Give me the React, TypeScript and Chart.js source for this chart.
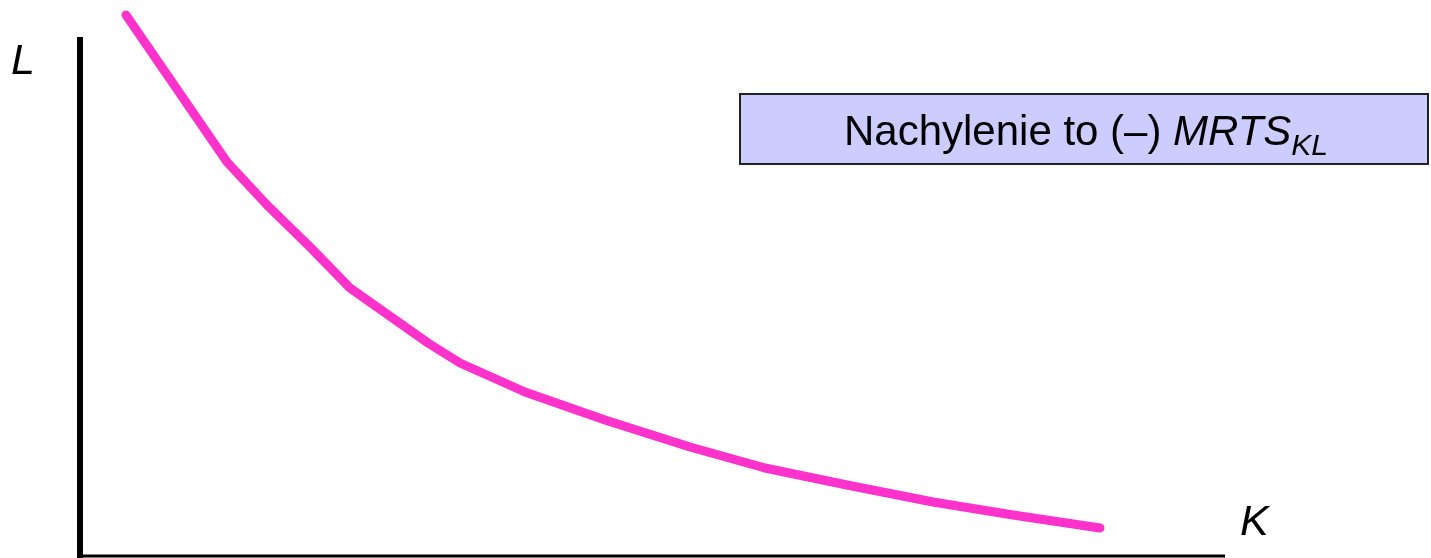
import React, { useEffect, useRef } from "react";
import { Chart, registerables } from "chart.js";

Chart.register(...registerables);

// Isoquant: capital K (x) vs labour L (y), in arbitrary units
const kValues = [0.46, 1.47, 1.87, 2.30, 2.70, 3.48, 3.80, 4.45, 5.25, 6.10, 6.85, 7.67, 8.53, 9.33, 10.20];
const lValues = [5.41, 3.94, 3.51, 3.09, 2.68, 2.13, 1.93, 1.64, 1.36, 1.09, 0.88, 0.71, 0.54, 0.41, 0.28];

const xAxisLabel = "K";
const yAxisLabel = "L";
const noteMain = "Nachylenie to (–) ";
const noteItalic = "MRTS";
const noteSub = "KL";

const X_MIN = -0.8;
const X_MAX = 13.51;
const Y_MIN = -0.02;
const Y_MAX = 5.56;
const X_AXIS_END = 11.45;
const Y_AXIS_END = 5.19;

const W = 1431;
const H = 558;

const overlayPlugin = {
  id: "overlay",
  afterDatasetsDraw(chart: any) {
    const ctx = chart.ctx as CanvasRenderingContext2D;
    const xs = chart.scales.x;
    const ys = chart.scales.y;
    const x0 = xs.getPixelForValue(0);
    const y0 = ys.getPixelForValue(0);
    const xEnd = xs.getPixelForValue(X_AXIS_END);
    const yTop = ys.getPixelForValue(Y_AXIS_END);
    ctx.save();
    ctx.strokeStyle = "#000";
    // y axis
    ctx.lineWidth = 6;
    ctx.beginPath();
    ctx.moveTo(x0, yTop);
    ctx.lineTo(x0, y0 + 2);
    ctx.stroke();
    // x axis
    ctx.lineWidth = 3;
    ctx.beginPath();
    ctx.moveTo(x0 - 3, y0);
    ctx.lineTo(xEnd, y0);
    ctx.stroke();

    // axis labels
    ctx.fillStyle = "#000";
    ctx.font = "italic 43px 'Liberation Sans', Arial, sans-serif";
    ctx.textBaseline = "alphabetic";
    ctx.textAlign = "left";
    ctx.fillText(yAxisLabel, 11, 74);
    ctx.fillText(xAxisLabel, 1240, 535);

    // note box
    const bx = 740, by = 94, bw = 688, bh = 70;
    ctx.fillStyle = "#ccccff";
    ctx.fillRect(bx, by, bw, bh);
    ctx.lineWidth = 2;
    ctx.strokeStyle = "#222";
    ctx.strokeRect(bx, by, bw, bh);

    ctx.fillStyle = "#000";
    const mainFont = "42px 'Liberation Sans', Arial, sans-serif";
    const italFont = "italic 42px 'Liberation Sans', Arial, sans-serif";
    const subFont = "italic 30px 'Liberation Sans', Arial, sans-serif";
    ctx.font = mainFont;
    const w1 = ctx.measureText(noteMain).width;
    ctx.font = italFont;
    const w2 = ctx.measureText(noteItalic).width;
    ctx.font = subFont;
    const w3 = ctx.measureText(noteSub).width;
    const total = w1 + w2 + w3;
    let tx = bx + bw / 2 - total / 2 + 2;
    const baseline = 145;
    ctx.font = mainFont;
    ctx.fillText(noteMain, tx, baseline);
    tx += w1;
    ctx.font = italFont;
    ctx.fillText(noteItalic, tx, baseline);
    tx += w2;
    ctx.font = subFont;
    ctx.fillText(noteSub, tx, baseline + 10);
    ctx.restore();
  },
};

export default function App() {
  const ref = useRef<HTMLCanvasElement | null>(null);
  useEffect(() => {
    if (!ref.current) return;
    const chart = new Chart(ref.current, {
      type: "line",
      data: {
        datasets: [
          {
            data: kValues.map((k, i) => ({ x: k, y: lValues[i] })),
            borderColor: "#ff33cc",
            borderWidth: 9,
            borderCapStyle: "round",
            borderJoinStyle: "round",
            pointRadius: 0,
            tension: 0,
            fill: false,
            clip: false as any,
          },
        ],
      },
      options: {
        animation: false,
        responsive: false,
        devicePixelRatio: 1,
        layout: { padding: 0, autoPadding: false } as any,
        plugins: { legend: { display: false }, tooltip: { enabled: false }, title: { display: false } },
        events: [],
        scales: {
          x: { type: "linear", display: false, min: X_MIN, max: X_MAX },
          y: { type: "linear", display: false, min: Y_MIN, max: Y_MAX },
        },
      },
      plugins: [overlayPlugin],
    });
    return () => chart.destroy();
  }, []);
  return (
    <div style={{ position: "absolute", left: 0, top: 0, width: W, height: H, background: "#fff" }}>
      <canvas ref={ref} width={W} height={H} style={{ display: "block", width: W, height: H }} />
    </div>
  );
}
